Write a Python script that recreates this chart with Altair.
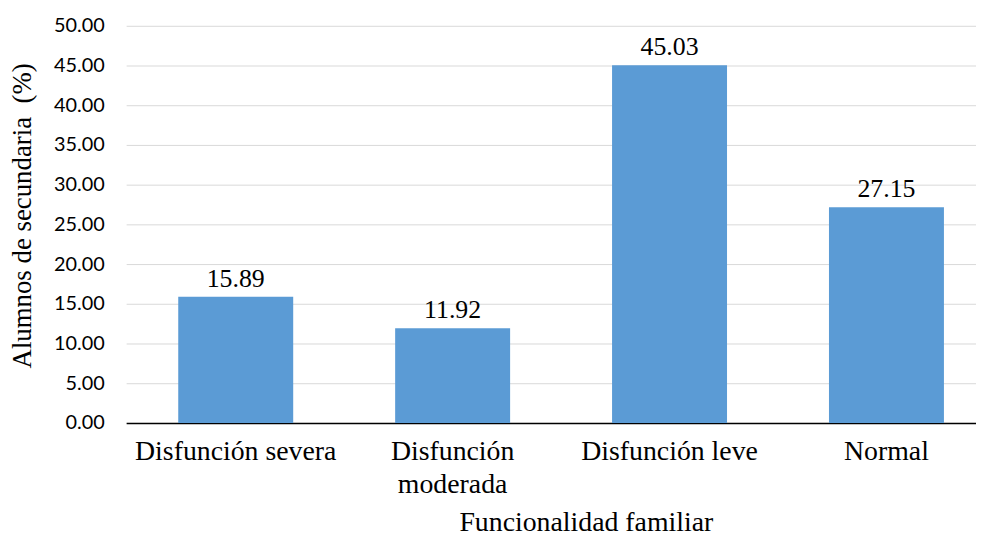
import altair as alt
import pandas as pd

categories = ["Disfunción severa", "Disfunción moderada", "Disfunción leve", "Normal"]
values = [15.89, 11.92, 45.03, 27.15]
labels = ["15.89", "11.92", "45.03", "27.15"]
y_ticks = [0, 5, 10, 15, 20, 25, 30, 35, 40, 45, 50]

df = pd.DataFrame({"cat": categories, "val": values, "lab": labels})

x = alt.X("cat:N", sort=categories,
          scale=alt.Scale(paddingInner=0.47, paddingOuter=0.194, align=0.619),
          axis=alt.Axis(title="Funcionalidad familiar", labelAngle=0,
                        labelFont="Liberation Serif", labelFontSize=28, labelColor="black",
                        labelPadding=15, labelLineHeight=33, labelBaseline="top",
                        labelLimit=400,
                        labelExpr="datum.label == 'Disfunción moderada' ? ['Disfunción','moderada'] : datum.label",
                        titleFont="Liberation Serif", titleFontSize=28, titleFontWeight="normal",
                        titleColor="black", titleX=463, titleY=100, titleBaseline="middle",
                        titleAnchor="middle",
                        domainColor="black", domainWidth=1.5, ticks=False, grid=False))
y = alt.Y("val:Q", scale=alt.Scale(domain=[0, 50], nice=False),
          axis=alt.Axis(title="Alumnos de secundaria\u00a0\u00a0(%)", values=y_ticks,
                        format=".2f", labelFont="Lato", labelFontSize=20, labelColor="black",
                        labelPadding=22, ticks=False, domain=False, labelOverlap=False,
                        gridColor="#d9d9d9", gridWidth=1,
                        titleFont="Liberation Serif", titleFontSize=27, titleFontWeight="normal",
                        titleColor="black", titleX=-104, titleY=191, titleBaseline="middle"))

bars = alt.Chart(df).mark_bar(color="#5b9bd5").encode(x=x, y=y)
text = alt.Chart(df).mark_text(font="Liberation Serif", fontSize=26, color="black",
                               baseline="alphabetic", dy=-10).encode(
    x=x, y=y, text="lab:N")

chart = (bars + text).properties(
    width=856, height=400,
    autosize=alt.AutoSizeParams(type="none"),
    padding={"left": 119, "top": 16, "right": 0, "bottom": 116},
).configure_view(stroke=None)

chart.save("out.html", embed_options={"renderer": "svg", "actions": False})
